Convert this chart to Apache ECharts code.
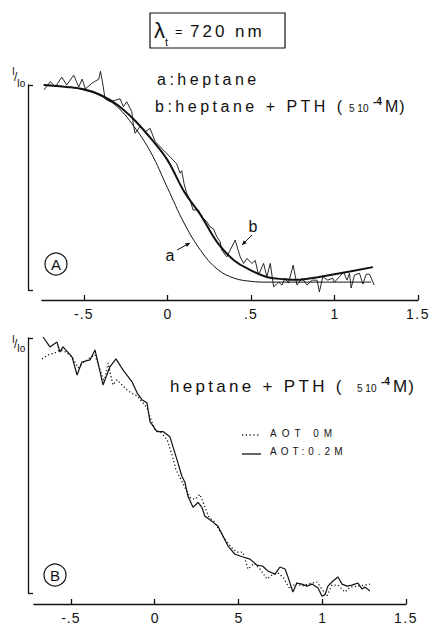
<!DOCTYPE html>
<html><head><meta charset="utf-8">
<script src="https://cdn.jsdelivr.net/npm/echarts@6/dist/echarts.min.js"></script>
<style>html,body{margin:0;padding:0;background:#fff}#c{width:433px;height:625px}</style>
</head><body><div id="c"></div>
<script>
// ---------- tick labels ----------
const topXTicks = [-0.5, 0, 0.5, 1, 1.5];
const topXLabels = ['-.5', '0', '.5', '1', '1.5'];
const botXTicks = [-0.5, 0, 0.5, 1, 1.5];
const botXLabels = ['-.5', '0', '5', '1', '1.5'];

// ---------- panel A : curve a (heptane), smooth ----------
const curveA = [[-0.74,1.0],[-0.6,0.99],[-0.5,0.975],[-0.4,0.945],[-0.3,0.89],[-0.2,0.79],[-0.1,0.66],[0,0.48],[0.1,0.30],[0.2,0.16],[0.3,0.065],[0.4,0.02],[0.5,0.004],[0.6,0],[0.8,0],[1.0,0],[1.22,0]];
// ---------- panel A : curve b fit (heptane + PTH), smooth thick ----------
const curveBFit = [[-0.74,1.0],[-0.6,0.99],[-0.5,0.978],[-0.4,0.95],[-0.3,0.90],[-0.2,0.825],[-0.1,0.73],[0,0.62],[0.1,0.46],[0.2,0.34],[0.3,0.20],[0.4,0.11],[0.5,0.06],[0.6,0.025],[0.7,0.015],[0.8,0.012]];
const curveBRise = [[0.8,0.012],[0.9,0.025],[1.0,0.04],[1.1,0.055],[1.23,0.076]];
// ---------- panel A : curve b measured (noisy) ----------
const curveBData = [[-0.738,0.975],[-0.70,1.017],[-0.67,0.99],[-0.632,1.04],[-0.602,1.0],[-0.56,1.05],[-0.53,0.99],[-0.51,1.03],[-0.49,0.98],[-0.45,1.01],[-0.41,1.03],[-0.40,1.07],[-0.385,1.0],[-0.373,0.93],[-0.343,0.915],[-0.283,0.93],[-0.263,0.89],[-0.243,0.915],[-0.213,0.865],[-0.203,0.797],[-0.193,0.755],[-0.163,0.79],[-0.133,0.763],[-0.103,0.78],[-0.073,0.713],[-0.043,0.687],[-0.013,0.66],[0.016,0.636],[0.056,0.60],[0.076,0.553],[0.086,0.565],[0.10,0.50],[0.116,0.45],[0.136,0.417],[0.154,0.366],[0.186,0.366],[0.206,0.33],[0.236,0.307],[0.256,0.28],[0.276,0.27],[0.296,0.23],[0.316,0.205],[0.326,0.162],[0.356,0.128],[0.376,0.162],[0.406,0.213],[0.436,0.128],[0.456,0.095],[0.476,0.12],[0.506,0.095],[0.526,0.11],[0.546,0.036],[0.576,0.095],[0.596,0.027],[0.616,0.095],[0.636,-0.024],[0.666,0.0],[0.686,-0.015],[0.705,0.02],[0.725,-0.005],[0.753,0.086],[0.776,-0.015],[0.806,0.02],[0.836,-0.015],[0.866,0.01],[0.896,0.01],[0.91,-0.05],[0.93,0.027],[0.96,0.01],[0.99,0.02],[1.0,0.0],[1.03,0.027],[1.055,0.05],[1.075,0.01],[1.09,0.045],[1.10,-0.03],[1.12,0.036],[1.15,0.045],[1.17,-0.01],[1.19,0.04],[1.21,0.04],[1.238,-0.015]];

// ---------- panel B : AOT 0.2M (solid) ----------
const aot02 = [[-0.666,1.004],[-0.625,0.965],[-0.583,0.984],[-0.565,0.945],[-0.547,0.965],[-0.493,0.926],[-0.463,0.855],[-0.434,0.906],[-0.386,0.914],[-0.356,0.953],[-0.338,0.902],[-0.308,0.816],[-0.267,0.887],[-0.231,0.918],[-0.189,0.875],[-0.135,0.828],[-0.105,0.785],[-0.076,0.758],[-0.046,0.746],[-0.028,0.672],[0.014,0.633],[0.050,0.633],[0.091,0.613],[0.133,0.523],[0.163,0.457],[0.181,0.434],[0.199,0.379],[0.229,0.336],[0.259,0.355],[0.282,0.336],[0.300,0.301],[0.342,0.281],[0.378,0.262],[0.408,0.223],[0.438,0.184],[0.479,0.152],[0.527,0.141],[0.569,0.133],[0.611,0.109],[0.646,0.105],[0.676,0.086],[0.718,0.074],[0.748,0.102],[0.778,0.094],[0.796,0.0625],[0.825,0.004],[0.849,0.039],[0.879,0.035],[0.909,0.027],[0.939,0.035],[0.975,0.020],[0.998,-0.012],[1.016,-0.008],[1.034,0.027],[1.064,0.047],[1.094,0.0625],[1.118,0.035],[1.148,0.027],[1.177,0.031],[1.213,0.039],[1.237,0.016],[1.255,0.023],[1.285,0.008]];
// ---------- panel B : AOT 0M (dotted) ----------
const aot0 = [[-0.672,0.918],[-0.636,0.934],[-0.595,0.941],[-0.565,0.953],[-0.529,0.945],[-0.493,0.926],[-0.457,0.883],[-0.422,0.906],[-0.386,0.922],[-0.356,0.934],[-0.326,0.875],[-0.302,0.828],[-0.278,0.902],[-0.249,0.816],[-0.225,0.836],[-0.201,0.820],[-0.165,0.797],[-0.141,0.785],[-0.105,0.773],[-0.076,0.750],[-0.046,0.727],[-0.022,0.680],[0.002,0.641],[0.038,0.629],[0.074,0.602],[0.103,0.543],[0.127,0.484],[0.157,0.445],[0.187,0.406],[0.211,0.375],[0.241,0.367],[0.270,0.387],[0.294,0.348],[0.324,0.297],[0.354,0.281],[0.390,0.242],[0.420,0.211],[0.456,0.180],[0.492,0.160],[0.527,0.160],[0.557,0.094],[0.593,0.117],[0.629,0.094],[0.670,0.055],[0.700,0.070],[0.736,0.078],[0.766,0.0625],[0.807,0.016],[0.843,0.039],[0.879,0.027],[0.915,0.035],[0.969,0.043],[0.998,0.016],[1.028,-0.012],[1.058,0.031],[1.094,0.031],[1.136,0.004],[1.165,0.023],[1.213,0.027],[1.255,0.031],[1.285,0.035]];

const INK = '#111';
const FONT = 'Liberation Sans, Arial, sans-serif';

function xAxisCfg(grid, min, max, offset, ticks, labels) {
  return {
    gridIndex: grid, type: 'value', min: min, max: max, offset: offset,
    axisLine: {show: true, onZero: false, lineStyle: {color: INK, width: 1.3}},
    axisTick: {show: true, inside: true, length: 5, customValues: ticks, lineStyle: {color: INK, width: 1.3}},
    axisLabel: {show: true, customValues: ticks, color: INK, fontSize: 14, fontFamily: FONT, margin: 7,
      formatter: function (v) { const i = ticks.findIndex(t => Math.abs(t - v) < 1e-9); return i >= 0 ? labels[i] : ''; }},
    splitLine: {show: false}
  };
}
function yAxisCfg(grid, min, max, offset) {
  return {
    gridIndex: grid, type: 'value', min: min, max: max, offset: offset,
    axisLine: {show: true, onZero: false, lineStyle: {color: INK, width: 1.3}},
    axisTick: {show: true, inside: true, length: 5, customValues: [min, max], lineStyle: {color: INK, width: 1.3}},
    axisLabel: {show: false}, splitLine: {show: false}
  };
}
function line(data, xi, width, type, smooth) {
  return {type: 'line', xAxisIndex: xi, yAxisIndex: xi, data: data, showSymbol: false, symbol: 'none',
    smooth: smooth ? 0.4 : false, clip: false, silent: true,
    lineStyle: {color: INK, width: width, type: type || 'solid'}};
}
function txt(x, y, s, size, opts) {
  opts = opts || {};
  return {type: 'text', x: x, y: y, silent: true, style: {
    text: s, font: (opts.weight || 'normal') + ' ' + size + 'px ' + FONT, fill: INK,
    align: opts.align || 'left', verticalAlign: 'middle', textAlign: opts.align || 'left', textVerticalAlign: 'middle'}};
}
function seg(x1, y1, x2, y2, w, dash) {
  return {type: 'line', silent: true, shape: {x1: x1, y1: y1, x2: x2, y2: y2},
    style: {stroke: INK, lineWidth: w || 1, lineDash: dash || null}};
}
function arrowHead(x1, y1, x2, y2) {
  const a = Math.atan2(y2 - y1, x2 - x1), L = 5, s = 0.45;
  return {type: 'polygon', silent: true, shape: {points: [[x2, y2],
    [x2 - L * Math.cos(a - s), y2 - L * Math.sin(a - s)], [x2 - L * Math.cos(a + s), y2 - L * Math.sin(a + s)]]},
    style: {fill: INK}};
}

const chart = echarts.init(document.getElementById('c'), null, {renderer: 'svg'});
chart.setOption({
  animation: false,
  backgroundColor: '#fff',
  grid: [
    {left: 42, right: 15, top: 85, bottom: 335},
    {left: 34, right: 27, top: 338, bottom: 31}
  ],
  xAxis: [xAxisCfg(0, -0.75, 1.5, 10, topXTicks, topXLabels), xAxisCfg(1, -0.72, 1.5, 11, botXTicks, botXLabels)],
  yAxis: [yAxisCfg(0, -0.04, 1.0, 14), yAxisCfg(1, 0, 1, 6)],
  series: [
    line(curveA, 0, 1, 'solid', true),
    line(curveBFit, 0, 2, 'solid', true),
    line(curveBRise, 0, 2, 'solid', false),
    line(curveBData, 0, 0.9, 'solid', false),
    line(aot0, 1, 1.3, [1.2, 2.4], false),
    line(aot02, 1, 1.2, 'solid', false)
  ],
  graphic: {elements: [
    // title box
    {type: 'rect', silent: true, shape: {x: 150, y: 13, width: 135, height: 35}, style: {fill: 'none', stroke: INK, lineWidth: 1.2}},
    txt(154, 30, 'λ', 22),
    txt(165, 42, 't', 11),
    txt(175, 31, '=', 13),
    txt(190, 31, '720 nm', 17),
    // legend texts panel A
    txt(157, 79, 'a:heptane', 16),
    txt(155, 106, 'b:heptane + PTH (', 16),
    txt(349, 108, '5 10', 10),
    txt(373, 101, '-4', 10, {weight: 'bold'}),
    txt(385, 106, 'M)', 16),
    // y label A
    txt(12, 71, 'I', 10),
    txt(14, 77, '/', 12),
    txt(17, 83, 'Io', 10),
    // a / b pointers
    txt(170, 255, 'a', 16, {align: 'center'}),
    seg(177, 250, 190, 243, 1), arrowHead(177, 250, 190, 243),
    txt(253, 226, 'b', 16, {align: 'center'}),
    seg(252, 235, 242, 245, 1), arrowHead(252, 235, 242, 245),
    // circled A
    {type: 'circle', silent: true, shape: {cx: 56, cy: 264, r: 11}, style: {fill: 'none', stroke: INK, lineWidth: 1.2}},
    txt(56, 264, 'A', 15, {align: 'center'}),
    // panel B texts
    txt(12, 339, 'I', 10),
    txt(14, 344, '/', 12),
    txt(17, 348, 'Io', 10),
    txt(170, 386, 'heptane + PTH (', 17),
    txt(357, 388, '5 10', 10),
    txt(381, 381, '-4', 10, {weight: 'bold'}),
    txt(393, 386, 'M)', 17),
    seg(242, 435, 261, 435, 1.3, [1.2, 2.6]),
    txt(270, 433, 'AOT 0M', 10),
    seg(242, 454, 261, 454, 1.3),
    txt(270, 451, 'AOT:0.2M', 10),
    {type: 'circle', silent: true, shape: {cx: 55, cy: 575, r: 11}, style: {fill: 'none', stroke: INK, lineWidth: 1.2}},
    txt(55, 575, 'B', 15, {align: 'center'})
  ]}
});

const spacing = {'720 nm': 3, 'a:heptane': 3.5, 'b:heptane + PTH (': 3.5, 'heptane + PTH (': 3.3, 'M)': 1,
  'AOT 0M': 5, 'AOT:0.2M': 4, '-.5': 1, '.5': 1, '1.5': 1.5};
function applySpacing() {
  document.querySelectorAll('#c text').forEach(function (t) {
    const s = spacing[t.textContent];
    if (s) t.style.letterSpacing = s + 'px';
  });
}
applySpacing();
chart.on('finished', applySpacing);
setTimeout(applySpacing, 50);
</script></body></html>
